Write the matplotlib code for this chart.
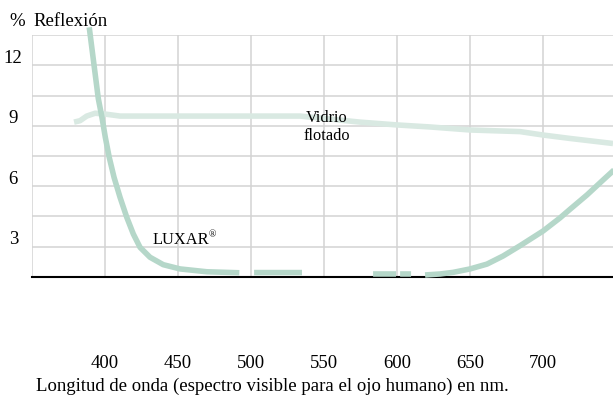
import numpy as np
import matplotlib
matplotlib.use("Agg")
import matplotlib.pyplot as plt

plt.rcParams['font.family'] = ['Liberation Serif', 'DejaVu Serif']

# ---- data (wavelength in nm, reflection in %) ----
luxar_nm = [389.2, 392.5, 395.4, 397.9, 400.2, 402.9, 406.2, 410.3, 414.9, 419.4,
            424.0, 430.8, 439.9, 451.4, 469.7, 492.0, np.nan,
            502.1, 534.9, np.nan,
            583.6, 599.3, np.nan,
            602.1, 609.6, np.nan,
            619.2, 629.5, 638.4, 650.0, 661.6, 672.6, 684.2, 700.0, 711.6,
            718.5, 730.1, 741.1, 747.9, 751.4]
luxar_pct = [13.38, 11.50, 9.85, 8.92, 7.93, 6.93, 5.94, 4.95, 3.96, 3.13,
             2.47, 1.98, 1.61, 1.40, 1.26, 1.21, np.nan,
             1.22, 1.22, np.nan,
             1.15, 1.15, np.nan,
             1.15, 1.15, np.nan,
             1.10, 1.15, 1.23, 1.40, 1.64, 2.04, 2.55, 3.28, 3.93,
             4.36, 5.07, 5.81, 6.26, 6.50]

glass_nm = [378.8, 382.9, 387.5, 393.2, 400.0, 410.3, 465.1, 533.6, 554.1, 574.7,
            600.0, 622.6, 650.0, 684.2, 700.0, 718.5, 747.9]
glass_pct = [8.68, 8.75, 8.98, 9.12, 9.08, 8.98, 8.98, 8.98, 8.83, 8.68,
             8.54, 8.44, 8.29, 8.21, 8.04, 7.87, 7.62]

x_ticks = [400, 450, 500, 550, 600, 650, 700]
x_tick_labels = ['400', '450', '500', '550', '600', '650', '700']
y_ticks = [3, 6, 9, 12]
y_tick_labels = ['3', '6', '9', '12']

luxar_color = '#b5d7c9'
glass_color = '#d9e9e2'
grid_color = '#d3d3d3'

fig = plt.figure(figsize=(6.13, 4.14), dpi=100)
ax = fig.add_axes([32/613, 1 - 278/414, 1 - 32/613, (278 - 36)/414])
ax.set_xlim(350, 747.9)
ax.set_ylim(1, 13)

# grid
for gx in np.arange(350, 751, 50):
    ax.axvline(gx, color=grid_color, lw=1.1, zorder=0)
for gy in np.arange(2.5, 13.01, 1.5):
    ax.axhline(gy, color=grid_color, lw=1.1, zorder=0)

for s in ['top', 'right', 'left']:
    ax.spines[s].set_visible(False)
ax.spines['bottom'].set_color('black')
ax.spines['bottom'].set_linewidth(1.5)

ax.plot(glass_nm, glass_pct, color=glass_color, lw=4.0, solid_capstyle='butt',
        solid_joinstyle='round', zorder=2)
ax.plot(luxar_nm, luxar_pct, color=luxar_color, lw=4.0, solid_capstyle='butt',
        solid_joinstyle='round', zorder=3, clip_on=False)

ax.set_xticks(x_ticks)
ax.set_xticklabels(x_tick_labels, fontsize=13.5)
ax.tick_params(axis='x', length=0, pad=55.5)
ax.set_yticks(y_ticks)
ax.set_yticklabels(y_tick_labels, fontsize=13.5)
for lbl in ax.get_yticklabels():
    lbl.set_horizontalalignment('center')
ax.tick_params(axis='y', length=0, pad=13.5)

ax.text(552, 8.50, 'Vidrio\nflotado', ha='center', va='center', fontsize=11.8,
        multialignment='center', linespacing=1.2, zorder=4)
ax.text(432.2, 2.88, 'LUXAR', ha='left', va='center', fontsize=11.8, zorder=4)
ax.text(471.0, 3.15, '®', ha='left', va='center', fontsize=7, zorder=4)

fig.text(9/613, 1 - 25.7/414, '%', ha='left', va='baseline', fontsize=13.5)
fig.text(33/613, 1 - 25.7/414, 'Reflexión', ha='left', va='baseline', fontsize=13.5)
fig.text(36/613, 1 - 386/414, 'Longitud de onda (espectro visible para el ojo humano) en nm.',
         ha='left', va='center', fontsize=13.5)

fig.savefig('out.png', dpi=100)
